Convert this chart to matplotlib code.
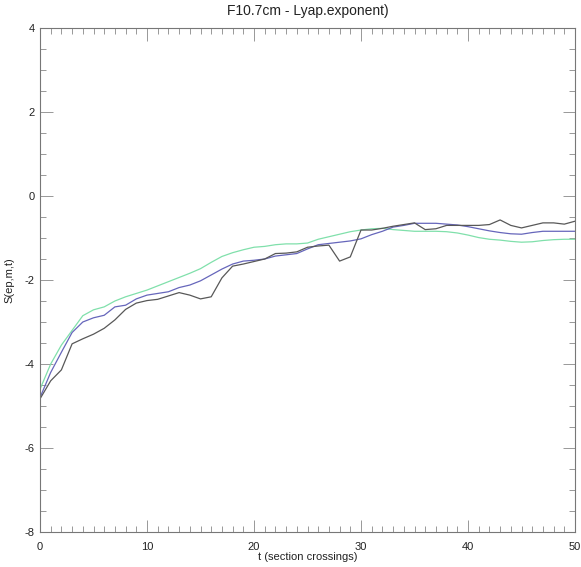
import matplotlib
matplotlib.use("Agg")
import matplotlib.pyplot as plt
from matplotlib.ticker import MultipleLocator, FuncFormatter

t = list(range(51))

s_black = [-4.83, -4.40, -4.14, -3.52, -3.40, -3.29, -3.15, -2.95, -2.70, -2.55,
           -2.49, -2.46, -2.38, -2.30, -2.36, -2.45, -2.40, -1.95, -1.67, -1.62,
           -1.56, -1.50, -1.37, -1.36, -1.33, -1.22, -1.19, -1.17, -1.55, -1.45,
           -0.81, -0.81, -0.77, -0.72, -0.68, -0.64, -0.80, -0.78, -0.70, -0.70,
           -0.70, -0.70, -0.68, -0.57, -0.70, -0.76, -0.70, -0.64, -0.64, -0.67,
           -0.60]

s_blue = [-4.80, -4.20, -3.72, -3.25, -3.00, -2.90, -2.84, -2.64, -2.60, -2.45,
          -2.36, -2.32, -2.28, -2.18, -2.12, -2.02, -1.88, -1.74, -1.62, -1.55,
          -1.53, -1.50, -1.43, -1.40, -1.37, -1.26, -1.16, -1.13, -1.10, -1.07,
          -1.02, -0.92, -0.84, -0.74, -0.70, -0.65, -0.65, -0.65, -0.67, -0.69,
          -0.73, -0.78, -0.83, -0.87, -0.90, -0.91, -0.87, -0.84, -0.84, -0.84,
          -0.84]

s_green = [-4.60, -4.00, -3.55, -3.20, -2.85, -2.71, -2.64, -2.50, -2.40, -2.32,
           -2.24, -2.14, -2.04, -1.94, -1.84, -1.73, -1.58, -1.44, -1.35, -1.28,
           -1.22, -1.20, -1.16, -1.14, -1.14, -1.12, -1.03, -0.97, -0.91, -0.85,
           -0.81, -0.78, -0.77, -0.80, -0.82, -0.84, -0.84, -0.84, -0.85, -0.88,
           -0.93, -0.99, -1.03, -1.05, -1.08, -1.10, -1.09, -1.06, -1.04, -1.03,
           -1.03]

plt.rcParams['font.family'] = ['Liberation Sans', 'DejaVu Sans']

fig = plt.figure(figsize=(5.81, 5.67), dpi=100)
ax = fig.add_axes([40 / 581, 1 - 532 / 567, 535 / 581, 504 / 567])

ax.plot(t, s_green, color='#80e0ab', lw=0.9)
ax.plot(t, s_blue, color='#6666bb', lw=0.9)
ax.plot(t, s_black, color='#585858', lw=0.9)

ax.set_xlim(0, 50)
ax.set_ylim(-8, 4)
ax.xaxis.set_major_locator(MultipleLocator(10))
ax.xaxis.set_minor_locator(MultipleLocator(1))
ax.yaxis.set_major_locator(MultipleLocator(2))
ax.yaxis.set_minor_locator(MultipleLocator(0.5))
fmt = FuncFormatter(lambda v, p: f"{v:.0f}".replace('\u2212', '-'))
ax.xaxis.set_major_formatter(fmt)
ax.yaxis.set_major_formatter(fmt)

for sp in ax.spines.values():
    sp.set_color('#777777')
    sp.set_linewidth(0.8)
ax.tick_params(which='both', direction='in', top=True, right=True,
               color='#888888', labelsize=8, labelcolor='#222222', width=0.6)
ax.tick_params(which='major', length=9, pad=4)
ax.tick_params(axis='x', which='major', pad=7)
ax.tick_params(which='minor', length=4)

ax.set_title('F10.7cm - Lyap.exponent)', fontsize=10, color='#222222', pad=9)
ax.set_xlabel('t (section crossings)', fontsize=8, color='#222222', labelpad=0)
ax.set_ylabel('S(ep,m,t)', fontsize=8, color='#222222', labelpad=7)

fig.savefig('out.png', dpi=100)
